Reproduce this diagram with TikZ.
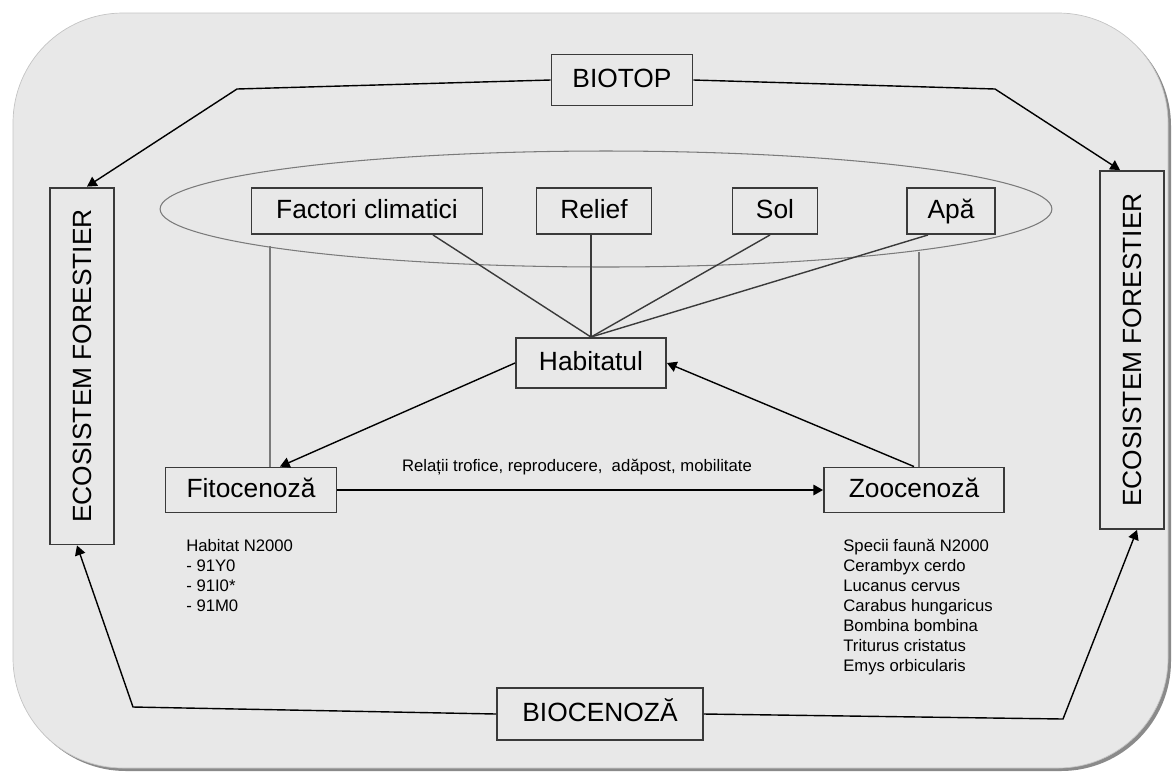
\documentclass[tikz,border=0pt]{standalone}
\usepackage{fontspec}
\setmainfont{Liberation Sans}
\usetikzlibrary{arrows.meta, positioning, shapes.geometric}
\definecolor{panelfill}{HTML}{E8E8E8}
\definecolor{panelrim}{HTML}{C4C4C4}
\definecolor{panelshade}{HTML}{8A8A8A}
\definecolor{boxedge}{HTML}{3A3A3A}
\definecolor{faintline}{HTML}{7A7A7A}
\tikzset{
  framed/.style={draw=boxedge, line width=1.1pt, inner sep=0pt},
  flow/.style={-{Triangle[length=5.5pt, width=6pt]}, line width=0.8pt},
  link/.style={line width=0.8pt, boxedge},
  faint/.style={line width=0.6pt, faintline},
  smalltext/.style={font=\fontsize{9.5}{11.34}\selectfont, inner sep=0pt}
}
\newcommand{\termbox}[5]{%
  \node[framed, minimum width=#4, minimum height=#5,
        text height=11pt, text depth=3pt] (#1) at (#2) {#3};}

\begin{document}
\begin{tikzpicture}[x=0.02cm, y=-0.02cm, font=\fontsize{15}{18}\selectfont]
  \useasboundingbox (0,0) rectangle (1173,772);
  % panel
  \fill[panelshade, rounded corners=2.2cm] (16,16) rectangle (1171,771);
  \draw[panelrim, fill=panelfill, rounded corners=2.2cm] (13,13) rectangle (1168,768);

  % abiotic factors
  \node[ellipse, draw=faintline, line width=0.6pt, minimum width=17.84cm,
        minimum height=2.32cm, inner sep=0pt] (mediu) at (606,209) {};
  \termbox{climat}{367,211}{Factori climatici}{4.62cm}{0.92cm}
  \termbox{relief}{594,211}{Relief}{2.3cm}{0.92cm}
  \termbox{sol}{775,211}{Sol}{1.7cm}{0.92cm}
  \termbox{apa}{951,211}{Apă}{1.76cm}{0.92cm}

  \termbox{biotop}{622,80}{BIOTOP}{2.82cm}{1.02cm}
  \termbox{biocen}{600,714}{BIOCENOZĂ}{4.12cm}{1.04cm}
  \termbox{habitat}{591,363}{Habitatul}{3.0cm}{1.0cm}
  \termbox{fito}{251,490}{Fitocenoză}{3.42cm}{0.9cm}
  \termbox{zoo}{914,490}{Zoocenoză}{3.6cm}{0.9cm}
  \node[framed, minimum width=1.28cm, minimum height=7.14cm] (ecoleft) at (82,366)
    {\rotatebox{90}{ECOSISTEM FORESTIER}};
  \node[framed, minimum width=1.28cm, minimum height=7.16cm] (ecoright) at (1132,350)
    {\rotatebox{90}{ECOSISTEM FORESTIER}};

  % outer loop
  \coordinate (topleft) at (237,89);
  \coordinate (topright) at (995,89);
  \coordinate (botleft) at (133,707);
  \coordinate (botright) at (1063,719);
  \draw[flow] (biotop.west) -- (topleft) -- ([xshift=0.1cm]ecoleft.north);
  \draw[flow] (biotop.east) -- (topright) -- ([xshift=-0.24cm]ecoright.north);
  \draw[flow] (biocen.west) -- (botleft) -- ([xshift=-0.1cm]ecoleft.south);
  \draw[flow] (biocen.east) -- (botright) -- ([xshift=0.1cm]ecoright.south);

  % factors to habitat
  \draw[link] ([xshift=1.32cm]climat.south) -- (habitat.north);
  \draw[link] (habitat.north |- relief.south) -- (habitat.north);
  \draw[link] ([xshift=-0.1cm]sol.south) -- (habitat.north);
  \draw[link] ([xshift=-0.46cm]apa.south) -- (habitat.north);
  \draw[faint] ([xshift=0.38cm]fito.north) -- ([xshift=0.38cm]fito.north |- mediu.186.5);
  \draw[faint] ([xshift=0.1cm]zoo.north) -- ([xshift=0.1cm]zoo.north |- mediu.352.5);

  % habitat and communities
  \draw[flow] (habitat.west) -- ([xshift=0.58cm]fito.north);
  \draw[flow] (zoo.north) -- (habitat.east);
  \draw[flow] (fito.east) -- (zoo.west);
  \node[smalltext, anchor=base] (relatii) at (577,471)
    {Relații trofice, reproducere,\ \ adăpost, mobilitate};

  \node[smalltext, anchor=north west, align=left] (habitatlist) at (186,539)
    {Habitat N2000\\- 91Y0\\- 91I0*\\- 91M0};
  \node[smalltext, anchor=north west, align=left] (specieslist) at (843,539)
    {Specii faună N2000\\Cerambyx cerdo\\Lucanus cervus\\Carabus hungaricus\\
     Bombina bombina\\Triturus cristatus\\Emys orbicularis};
\end{tikzpicture}
\end{document}
